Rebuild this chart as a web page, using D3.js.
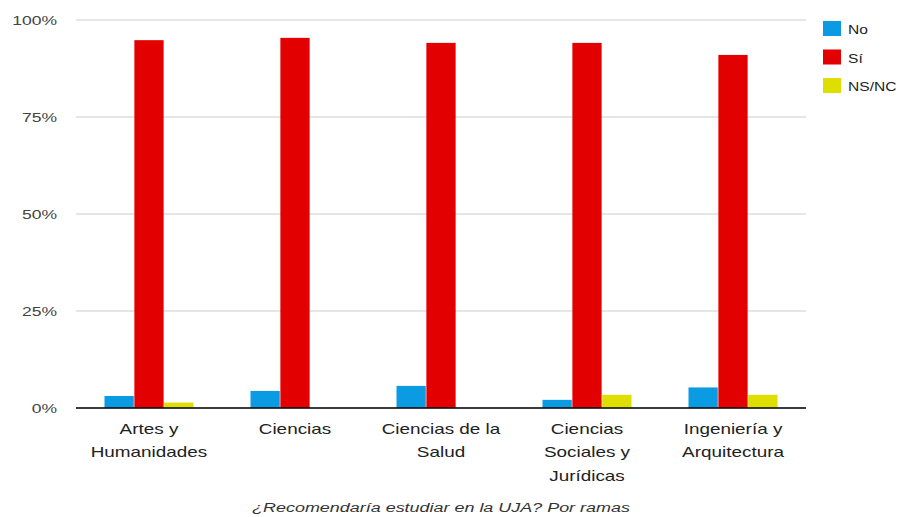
<!DOCTYPE html>
<html>
<head>
<meta charset="utf-8">
<script src="https://cdn.jsdelivr.net/npm/d3@7"></script>
<style>
  body { margin: 0; background: #fff; }
  text { font-family: "Liberation Sans", Arial, sans-serif; }
</style>
</head>
<body>
<svg id="chart"></svg>
<script>
// data
var categories = [["Artes y", "Humanidades"], ["Ciencias"], ["Ciencias de la", "Salud"],
  ["Ciencias", "Sociales y", "Jurídicas"], ["Ingeniería y", "Arquitectura"]];
var series = ["No", "Sí", "NS/NC"];
var noVals = [3.1, 4.4, 5.7, 2.1, 5.3];
var siVals = [94.8, 95.4, 94.1, 94.1, 91.0];
var nsVals = [1.4, 0, 0, 3.4, 3.4];
var yTicks = [0, 25, 50, 75, 100];
var colors = ["#0a9be3", "#e30000", "#dede00"];

var width = 900, height = 517;
var margin = { top: 20, right: 94, bottom: 109, left: 76 };
var k = 1.35; // text in the original is stretched sideways

var svg = d3.select("#chart").attr("width", width).attr("height", height);
var g = svg.append("g").attr("transform", "translate(" + margin.left + "," + margin.top + ")");
var w = width - margin.left - margin.right;
var h = height - margin.top - margin.bottom;

var x = d3.scaleBand().domain(d3.range(categories.length)).range([0, w]);
var xs = d3.scaleBand().domain(series).range([x.bandwidth() / 2 - 44.5, x.bandwidth() / 2 + 44.5]).paddingInner(0.02);
var y = d3.scaleLinear().domain([0, 100]).range([h, 0]);

// stretched text helper
function label(parent, px, py, anchor, size, sx) {
  return parent.append("g").attr("transform", "translate(" + px + "," + py + ") scale(" + (sx || k) + ",1)")
    .append("text").attr("text-anchor", anchor).attr("font-size", size);
}

// grid
g.selectAll(".grid").data(yTicks).enter().append("line")
  .attr("x1", 0).attr("x2", w)
  .attr("y1", function (d) { return y(d); }).attr("y2", function (d) { return y(d); })
  .attr("stroke", "#cccccc");

var yAxis = d3.axisLeft(y).tickValues(yTicks).tickSize(0).tickPadding(0).tickFormat(function (d) { return d + "%"; });
var ya = g.append("g").call(yAxis);
ya.select(".domain").remove();
ya.selectAll("text").attr("font-size", 13).attr("fill", "#444")
  .attr("x", -19 / k).attr("transform", "scale(" + k + ",1)");

var rows = categories.map(function (c, i) { return [noVals[i], siVals[i], nsVals[i]]; });

var groups = g.selectAll(".grp").data(rows).enter().append("g")
  .attr("transform", function (d, i) { return "translate(" + x(i) + ",0)"; });
groups.selectAll("rect").data(function (d) { return d; }).enter().append("rect")
  .attr("x", function (d, j) { return xs(series[j]); })
  .attr("width", xs.bandwidth())
  .attr("y", function (d) { return y(d); })
  .attr("height", function (d) { return h - y(d); })
  .attr("fill", function (d, j) { return colors[j]; });

// baseline
g.append("line").attr("x1", 0).attr("x2", w).attr("y1", h).attr("y2", h)
  .attr("stroke", "#000").attr("stroke-width", 1.5);

// category labels
categories.forEach(function (lines, i) {
  var t = label(g, x(i) + x.bandwidth() / 2, h + 26, "middle", 14).attr("fill", "#222");
  lines.forEach(function (l, n) {
    t.append("tspan").attr("x", 0).attr("dy", n === 0 ? 0 : 23.5).text(l);
  });
});

// legend
var leg = svg.append("g").attr("transform", "translate(823,21)");
series.forEach(function (s, j) {
  leg.append("rect").attr("x", 0).attr("y", j * 28.5).attr("width", 18).attr("height", 15).attr("fill", colors[j]);
  label(leg, 25, j * 28.5 + 13, "start", 13, 1.2).attr("fill", "#222").text(s);
});

// title
label(svg, 441, 512, "middle", 13.3).attr("font-style", "italic").attr("fill", "#333")
  .text("¿Recomendaría estudiar en la UJA? Por ramas");
</script>
</body>
</html>
